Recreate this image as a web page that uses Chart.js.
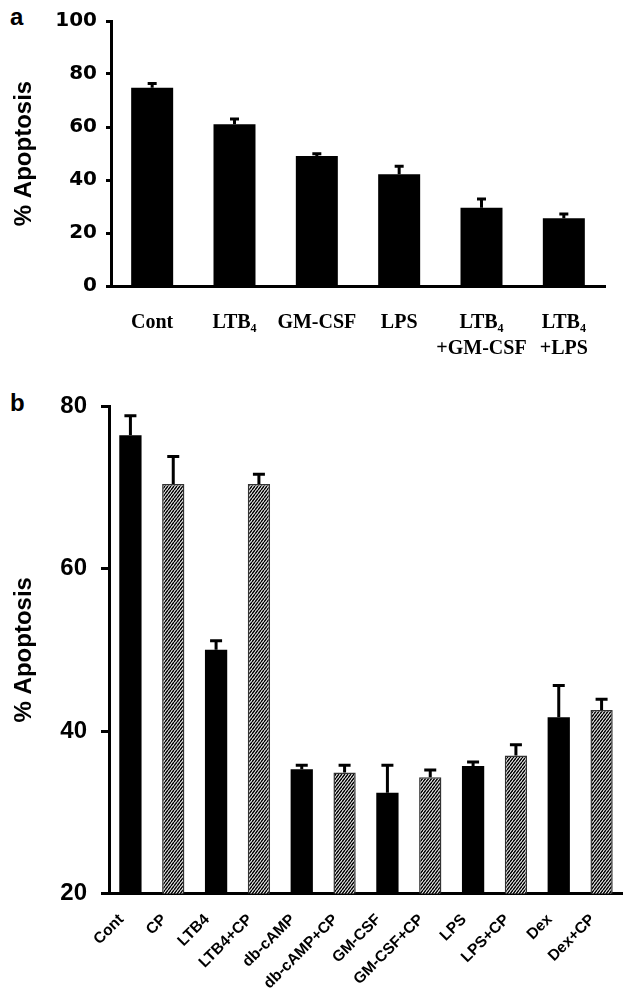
<!DOCTYPE html>
<html>
<head>
<meta charset="utf-8">
<script src="https://cdn.jsdelivr.net/npm/chart.js"></script>
<style>
  body { margin: 0; background: #fff; width: 623px; height: 992px; position: relative; overflow: hidden; }
  canvas { position: absolute; left: 0; }
  #chartA { top: 0; }
  #chartB { top: 370px; }
  .panel { position: absolute; font: bold 24px "Liberation Sans", Arial, sans-serif; line-height: 1; color: #000; }
</style>
</head>
<body>
<div class="panel" style="left:10px; top:5px">a</div>
<div class="panel" style="left:10px; top:391px">b</div>
<canvas id="chartA" width="623" height="370"></canvas>
<canvas id="chartB" width="623" height="622"></canvas>
<script>
// panel a: % apoptosis, single treatments and combinations
const aLabels = ['Cont', 'LTB₄', 'GM-CSF', 'LPS', ['LTB₄', '+GM-CSF'], ['LTB₄', '+LPS']];
const aMeans  = [74.8, 61.0, 49.1, 42.2, 29.5, 25.6];
const aErrors = [1.6, 2.0, 0.8, 3.0, 3.3, 1.6];
const aTicks  = { min: 0, max: 100, step: 20 };

// panel b: with / without CP
const bLabels  = ['Cont', 'CP', 'LTB4', 'LTB4+CP', 'db-cAMP', 'db-cAMP+CP', 'GM-CSF', 'GM-CSF+CP', 'LPS', 'LPS+CP', 'Dex', 'Dex+CP'];
const bMeans   = [76.4, 70.4, 50.0, 70.4, 35.3, 34.9, 32.4, 34.3, 35.7, 37.0, 41.7, 42.6];
const bErrors  = [2.4, 3.4, 1.1, 1.2, 0.5, 0.9, 3.4, 0.9, 0.5, 1.3, 3.9, 1.3];
const bHatched = [false, true, false, true, false, true, false, true, false, true, false, true];
const bTicks   = { min: 20, max: 80, step: 20 };

const SANS = '"Liberation Sans", Arial, sans-serif';
const WIDE = '"DejaVu Sans", Verdana, sans-serif';
const SERIF = '"Liberation Serif", "Times New Roman", serif';

Chart.defaults.color = '#000';
Chart.defaults.animation = false;

// upward-only error bars with a cap
const errorBars = {
    id: 'errorBars',
    afterDatasetsDraw(chart, args, opts) {
        const ctx = chart.ctx;
        const y = chart.scales.y;
        chart.data.datasets.forEach((ds, di) => {
            const meta = chart.getDatasetMeta(di);
            meta.data.forEach((bar, i) => {
                const yTop = y.getPixelForValue(ds.data[i] + ds.errors[i]);
                ctx.save();
                ctx.strokeStyle = '#000';
                ctx.lineWidth = opts.width;
                ctx.beginPath();
                ctx.moveTo(bar.x, bar.y);
                ctx.lineTo(bar.x, yTop);
                ctx.moveTo(bar.x - opts.cap / 2, yTop);
                ctx.lineTo(bar.x + opts.cap / 2, yTop);
                ctx.stroke();
                ctx.restore();
            });
        });
    }
};

function makeHatch(ctx) {
    const c = document.createElement('canvas');
    c.width = 3; c.height = 4;
    const g = c.getContext('2d');
    g.fillStyle = '#fff';
    g.fillRect(0, 0, 3, 4);
    g.strokeStyle = '#000';
    g.lineWidth = 1.5;
    g.beginPath();
    for (let k = -1; k <= 1; k++) {
        g.moveTo(k * 3, 4);
        g.lineTo(k * 3 + 3, 0);
    }
    g.stroke();
    return ctx.createPattern(c, 'repeat');
}

// ---- panel a ----
new Chart(document.getElementById('chartA'), {
    type: 'bar',
    data: {
        labels: aLabels,
        datasets: [{
            data: aMeans,
            errors: aErrors,
            backgroundColor: '#000',
            borderWidth: 0,
            barPercentage: 0.51,
            categoryPercentage: 1.0
        }]
    },
    options: {
        responsive: false,
        devicePixelRatio: 1,
        layout: { padding: { left: 0, top: 19, right: 18, bottom: 0 } },
        plugins: {
            legend: { display: false },
            tooltip: { enabled: false },
            errorBars: { width: 3, cap: 9 }
        },
        scales: {
            x: {
                offset: true,
                grid: { display: false, drawTicks: false },
                border: { display: true, color: '#000', width: 3 },
                ticks: {
                    autoSkip: false, maxRotation: 0, padding: 24,
                    font: { family: SERIF, size: 20, weight: 'bold', lineHeight: 1.3 }
                },
                afterFit(s) { s.height = 84; }
            },
            y: {
                min: aTicks.min, max: aTicks.max,
                grid: { drawOnChartArea: false, drawTicks: true, tickLength: 5, tickWidth: 3, color: '#000' },
                border: { display: true, color: '#000', width: 3 },
                ticks: { stepSize: aTicks.step, padding: 9, font: { family: WIDE, size: 20, weight: 'bold' } },
                title: {
                    display: true, text: '% Apoptosis',
                    font: { family: SANS, size: 24, weight: 'bold' },
                    padding: { top: 10, bottom: 0 }
                },
                afterFit(s) { s.width = 111; }
            }
        }
    },
    plugins: [errorBars]
});

// ---- panel b ----
const canvasB = document.getElementById('chartB');
const hatch = makeHatch(canvasB.getContext('2d'));
new Chart(canvasB, {
    type: 'bar',
    data: {
        labels: bLabels,
        datasets: [{
            data: bMeans,
            errors: bErrors,
            backgroundColor: bHatched.map(h => h ? hatch : '#000'),
            borderColor: bHatched.map(h => h ? '#333' : '#000'),
            borderWidth: bHatched.map(h => h ? 1.5 : 0),
            barPercentage: 0.52,
            categoryPercentage: 1.0
        }]
    },
    options: {
        responsive: false,
        devicePixelRatio: 1,
        layout: { padding: { left: 0, top: 36, right: 0, bottom: 0 } },
        plugins: {
            legend: { display: false },
            tooltip: { enabled: false },
            errorBars: { width: 3, cap: 12 }
        },
        scales: {
            x: {
                offset: true,
                grid: { display: false, drawTicks: false },
                border: { display: true, color: '#000', width: 3 },
                ticks: {
                    autoSkip: false, minRotation: 45, maxRotation: 45, padding: 17, labelOffset: -9,
                    font: { family: SANS, size: 15.5, weight: 'bold' }
                },
                afterFit(s) { s.height = 98.5; s.paddingLeft = 0; s.paddingRight = 0; }
            },
            y: {
                min: bTicks.min, max: bTicks.max,
                grid: { drawOnChartArea: false, drawTicks: true, tickLength: 8, tickWidth: 3, color: '#000' },
                border: { display: true, color: '#000', width: 3 },
                ticks: { stepSize: bTicks.step, padding: 14, font: { family: SANS, size: 24, weight: 'bold' } },
                title: {
                    display: true, text: '% Apoptosis',
                    font: { family: SANS, size: 24, weight: 'bold' },
                    padding: { top: 10, bottom: 0 }
                },
                afterFit(s) { s.width = 109; }
            }
        }
    },
    plugins: [errorBars]
});
</script>
</body>
</html>
